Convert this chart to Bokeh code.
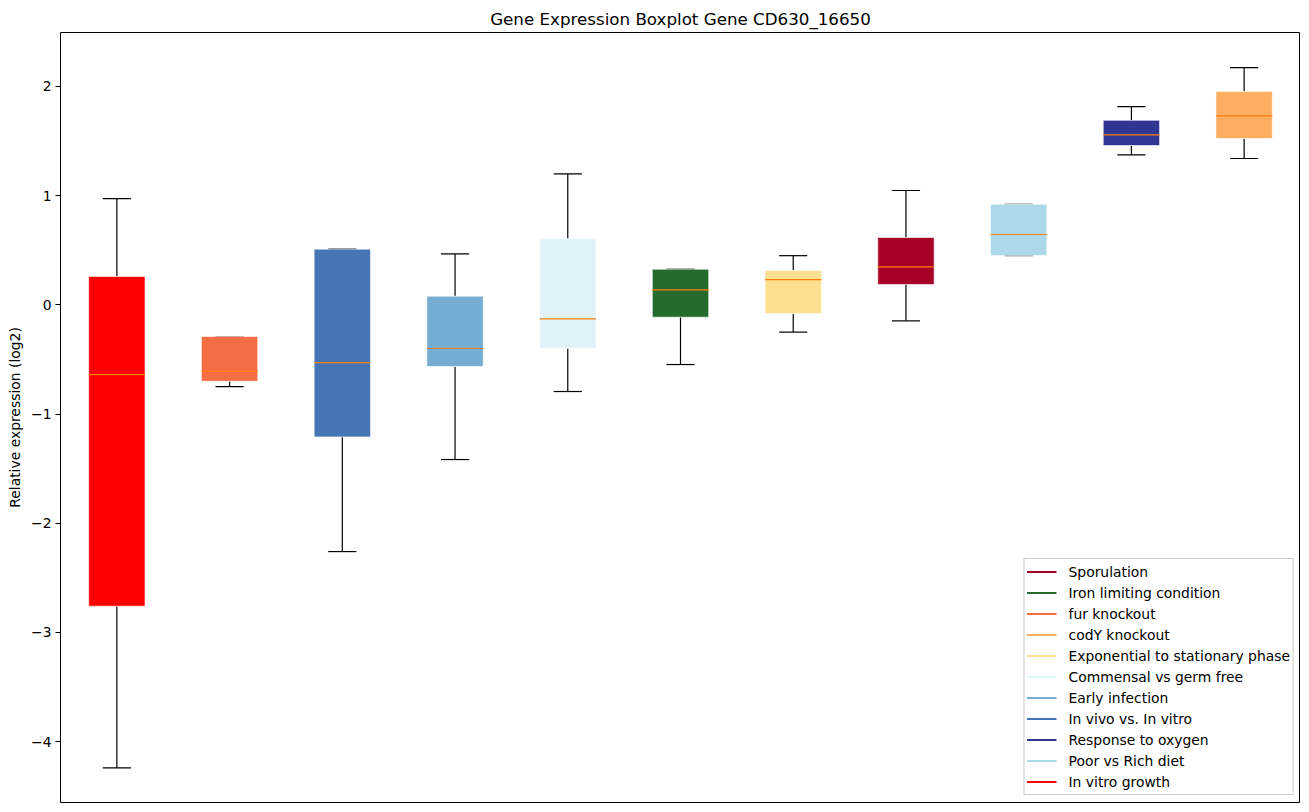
from bokeh.plotting import figure
from bokeh.models import Range1d, FixedTicker, ColumnDataSource, Legend, LegendItem
from bokeh.embed import file_html
from bokeh.resources import INLINE

# ---- data ----
groups = ["In vitro growth", "fur knockout", "In vivo vs. In vitro", "Early infection",
          "Commensal vs germ free", "Iron limiting condition", "Exponential to stationary phase",
          "Sporulation", "Poor vs Rich diet", "Response to oxygen", "codY knockout"]
colors = ["#ff0000", "#f46d43", "#4575b4", "#74add1", "#e0f3f8", "#246b2d",
          "#fee090", "#a50026", "#abd9e9", "#313695", "#fdae61"]
lower = [-4.24, -0.75, -2.26, -1.417, -0.794, -0.547, -0.25, -0.147, 0.451, 1.374, 1.34]
q1 = [-2.76, -0.70, -1.21, -0.565, -0.397, -0.113, -0.08, 0.186, 0.451, 1.459, 1.523]
median = [-0.64, -0.61, -0.53, -0.40, -0.128, 0.137, 0.23, 0.348, 0.644, 1.557, 1.731]
q3 = [0.26, -0.29, 0.51, 0.079, 0.604, 0.326, 0.314, 0.616, 0.921, 1.69, 1.953]
upper = [0.973, -0.29, 0.51, 0.467, 1.20, 0.326, 0.45, 1.047, 0.921, 1.816, 2.173]
legend_order = ["Sporulation", "Iron limiting condition", "fur knockout", "codY knockout",
                "Exponential to stationary phase", "Commensal vs germ free", "Early infection",
                "In vivo vs. In vitro", "Response to oxygen", "Poor vs Rich diet", "In vitro growth"]
y_ticks = [-4, -3, -2, -1, 0, 1, 2]

pos = list(range(1, len(groups) + 1))
box_w = 0.5
cap_w = 0.25

src = ColumnDataSource(dict(
    x=pos, lower=lower, q1=q1, median=median, q3=q3, upper=upper, color=colors,
    cap_l=[p - cap_w / 2 for p in pos], cap_r=[p + cap_w / 2 for p in pos],
    box_l=[p - box_w / 2 for p in pos], box_r=[p + box_w / 2 for p in pos],
))

p = figure(width=1300, height=804, output_backend="svg", toolbar_location=None,
           x_range=Range1d(0.5, 11.5), y_range=Range1d(-4.558, 2.494),
           title="Gene Expression Boxplot Gene CD630_16650",
           min_border_left=60, min_border_right=0, min_border_top=32, min_border_bottom=2)

p.title.align = "center"
p.title.text_font = "DejaVu Sans"
p.title.text_font_size = "16.7px"
p.title.text_font_style = "normal"
p.title.text_color = "black"
p.title.standoff = 7
p.title.offset = 0

p.xaxis.visible = False
p.xgrid.visible = False
p.ygrid.visible = False
p.outline_line_color = "black"
p.outline_line_alpha = 1.0
p.outline_line_width = 1

ya = p.yaxis[0]
ya.ticker = FixedTicker(ticks=y_ticks)
ya.major_label_overrides = {t: (str(t).replace("-", "\u2212")) for t in y_ticks}
ya.major_label_text_font = "DejaVu Sans"
ya.major_label_text_font_size = "13.9px"
ya.major_label_text_color = "black"
ya.major_tick_out = 5
ya.major_tick_in = 0
ya.major_tick_line_color = "black"
ya.minor_tick_out = 0
ya.minor_tick_in = 0
ya.axis_line_color = None
ya.axis_label = "Relative expression (log2)"
ya.axis_label_text_font = "DejaVu Sans"
ya.axis_label_text_font_size = "13.9px"
ya.axis_label_text_font_style = "normal"
ya.axis_label_text_color = "black"
ya.axis_label_standoff = 5
ya.major_label_standoff = 4

# whiskers
p.segment(x0="x", y0="q3", x1="x", y1="upper", source=src, line_color="black", line_width=1.2)
p.segment(x0="x", y0="q1", x1="x", y1="lower", source=src, line_color="black", line_width=1.2)
# caps
p.segment(x0="cap_l", y0="upper", x1="cap_r", y1="upper", source=src, line_color="black", line_width=1.2)
p.segment(x0="cap_l", y0="lower", x1="cap_r", y1="lower", source=src, line_color="black", line_width=1.2)
# boxes
p.vbar(x="x", width=box_w, bottom="q1", top="q3", source=src, fill_color="color",
       line_color="white", line_alpha=0.6, line_width=1)
# medians
p.segment(x0="box_l", y0="median", x1="box_r", y1="median", source=src,
          line_color="#ff7f0e", line_width=1.2)

# legend entries (single-point lines: invisible in the plot, drawn in the legend)
items = []
for name in legend_order:
    i = groups.index(name)
    r = p.line(x=[pos[i]], y=[median[i]], line_color=colors[i], line_width=2)
    items.append(LegendItem(label=name, renderers=[r]))

legend = Legend(items=items, location="bottom_right")
legend.label_text_font = "DejaVu Sans"
legend.label_text_font_size = "13.9px"
legend.label_text_color = "black"
legend.glyph_width = 30
legend.glyph_height = 21
legend.label_height = 21
legend.spacing = 0
legend.label_standoff = 12
legend.padding = 2
legend.margin = 7
legend.border_line_color = "#cccccc"
legend.border_line_alpha = 1.0
legend.background_fill_alpha = 0.8
p.add_layout(legend, "center")

open("out.html", "w").write(file_html(p, INLINE))
